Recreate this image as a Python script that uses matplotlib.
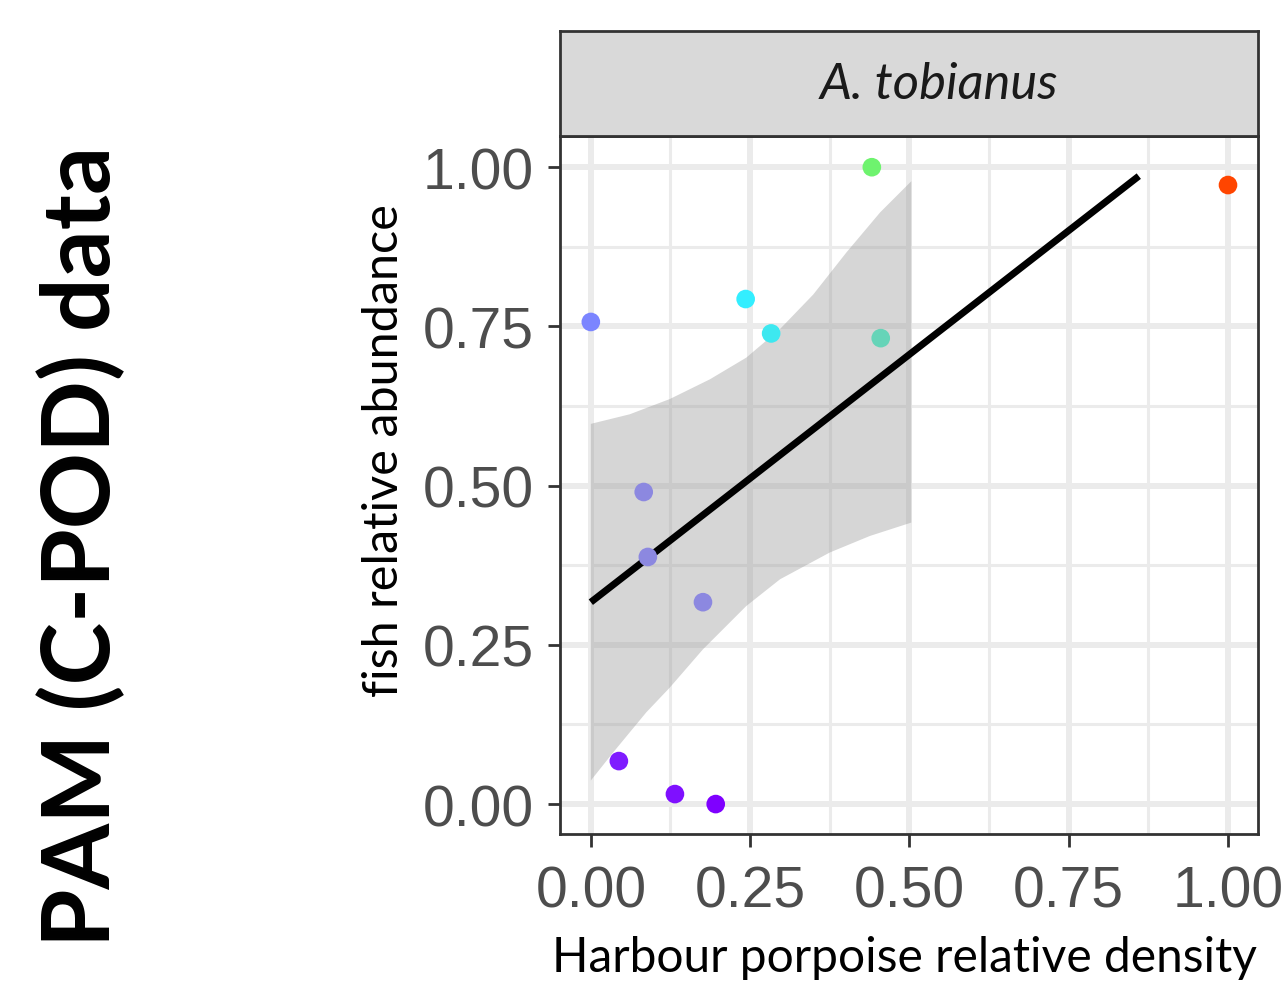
import matplotlib
matplotlib.use("Agg")
import matplotlib.pyplot as plt
from matplotlib.ticker import MultipleLocator

# points (harbour porpoise density vs fish abundance)
px = [0.0, 0.044, 0.083, 0.0895, 0.132, 0.176, 0.196, 0.243, 0.283, 0.441, 0.455, 1.0]
py = [0.757, 0.0675, 0.49, 0.388, 0.0157, 0.317, 0.0, 0.793, 0.739, 1.0, 0.7316, 0.972]
pcol = ['#7b85ff', '#7f1cff', '#8c88e0', '#8c88e0', '#7f10ff', '#8c88e0', '#7f00ff',
        '#33eeff', '#3de8f0', '#6ef36e', '#66d4b8', '#ff4500']

# fitted line
line_x = [0.0, 0.86]
line_y = [0.317, 0.986]

# confidence band edges
hi_x = [0.0, 0.061, 0.124, 0.187, 0.244, 0.297, 0.349, 0.401, 0.454, 0.503]
hi_y = [0.597, 0.612, 0.636, 0.667, 0.701, 0.746, 0.800, 0.866, 0.929, 0.978]
lo_x = [0.0, 0.035, 0.087, 0.124, 0.176, 0.244, 0.297, 0.375, 0.438, 0.503]
lo_y = [0.037, 0.081, 0.144, 0.183, 0.243, 0.311, 0.353, 0.395, 0.421, 0.442]

ticks = [0.0, 0.25, 0.5, 0.75, 1.0]
tick_labels = ['0.00', '0.25', '0.50', '0.75', '1.00']

fig = plt.figure(figsize=(12.81, 9.87), dpi=100)
ax = fig.add_axes([0.437, 0.154, 0.545, 0.707])

ax.fill(hi_x + lo_x[::-1], hi_y + lo_y[::-1], color='#999999', alpha=0.4, lw=0, zorder=2)
ax.plot(line_x, line_y, color='black', lw=5, solid_capstyle='butt', zorder=3)
ax.scatter(px, py, c=pcol, s=180, lw=0, zorder=4)

ax.set_xlim(-0.0487, 1.047)
ax.set_ylim(-0.047, 1.0487)
ax.set_xticks(ticks)
ax.set_xticklabels(tick_labels)
ax.set_yticks(ticks)
ax.set_yticklabels(tick_labels)
ax.xaxis.set_minor_locator(MultipleLocator(0.125))
ax.yaxis.set_minor_locator(MultipleLocator(0.125))
ax.grid(which='major', color='#ebebeb', lw=4.3, zorder=0)
ax.grid(which='minor', color='#ebebeb', lw=2.2, zorder=0)
ax.set_axisbelow(True)
ax.tick_params(which='minor', length=0)
ax.tick_params(which='major', length=9, width=2, color='#333333', labelcolor='#4d4d4d',
               labelsize=41)
ax.tick_params(axis='x', pad=13)
ax.tick_params(axis='y', pad=10)
for lab in ax.get_xticklabels() + ax.get_yticklabels():
    lab.set_family('Liberation Sans')
for s in ax.spines.values():
    s.set_color('#333333')
    s.set_linewidth(2)

# facet strip
strip = fig.add_axes([0.437, 0.861, 0.545, 0.1066])
strip.set_facecolor('#d9d9d9')
strip.set_xticks([])
strip.set_yticks([])
for s in strip.spines.values():
    s.set_color('#333333')
    s.set_linewidth(2)
strip.text(0.543, 0.5, 'A. tobianus', style='italic', fontsize=36.5, family='Lato',
           ha='center', va='center', color='#1a1a1a')

fig.text(0.300, 0.544, 'fish relative abundance', rotation=90, fontsize=35,
         family='Lato', ha='center', va='center', color='black')
fig.text(0.706, 0.029, 'Harbour porpoise relative density', fontsize=34.5,
         family='Lato', ha='center', va='center', color='black')
fig.text(0.064, 0.446, 'PAM (C-POD) data', rotation=90, fontsize=68,
         family='Lato', weight='bold', ha='center', va='center', color='black')

fig.savefig('out.png', dpi=100)
